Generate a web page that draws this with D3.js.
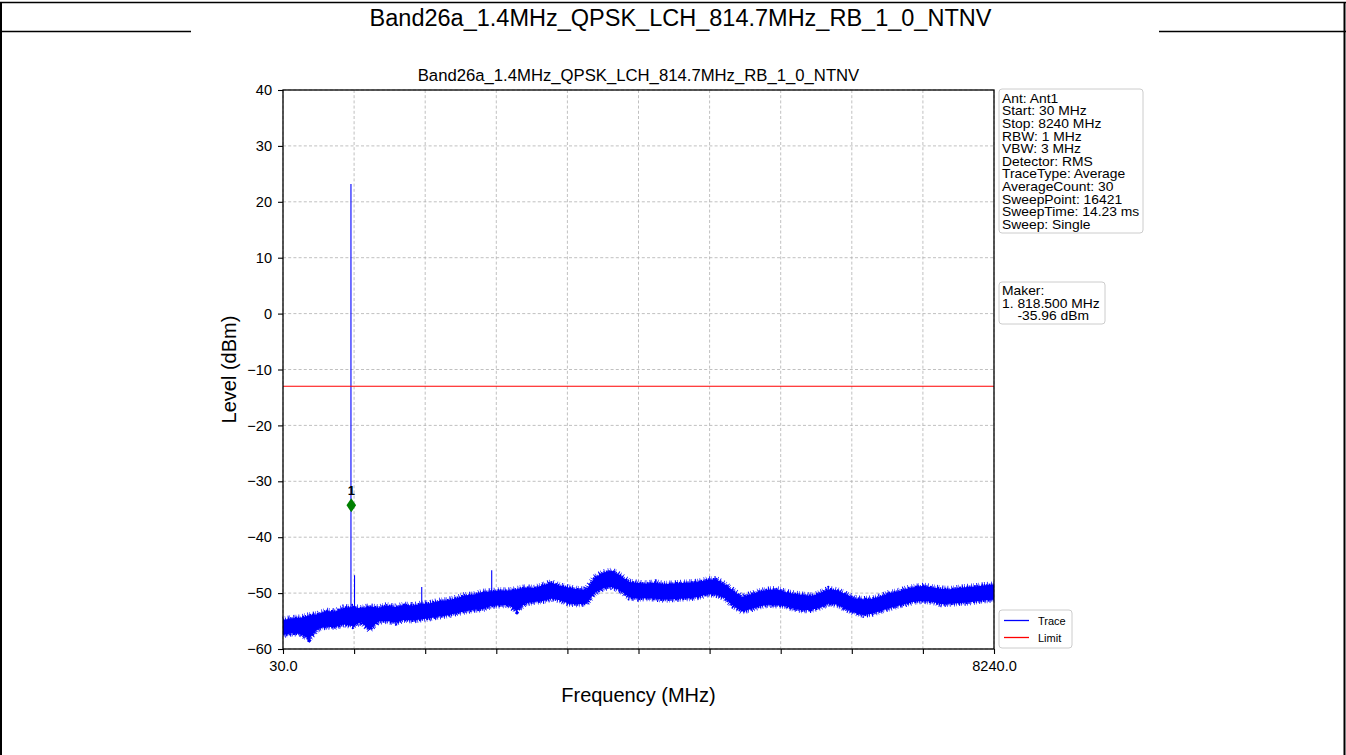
<!DOCTYPE html>
<html><head><meta charset="utf-8">
<script src="https://cdn.jsdelivr.net/npm/d3@7"></script>
<style>
body{margin:0;background:#fff}
svg{display:block}
text{font-family:"Liberation Sans",Arial,Helvetica,sans-serif}
</style>
</head><body>
<svg id="c" width="1346" height="755"></svg>
<script>
// ---------------- data ----------------
const pageTitle = "Band26a_1.4MHz_QPSK_LCH_814.7MHz_RB_1_0_NTNV";
const chartTitle = "Band26a_1.4MHz_QPSK_LCH_814.7MHz_RB_1_0_NTNV";
const xLabel = "Frequency (MHz)";
const yLabel = "Level (dBm)";
const yTicks = [-60, -50, -40, -30, -20, -10, 0, 10, 20, 30, 40];
const xTickValues = [30, 851, 1672, 2493, 3314, 4135, 4956, 5777, 6598, 7419, 8240];
const xTickLabels = ["30.0", "", "", "", "", "", "", "", "", "", "8240.0"];

const traceFreq = [30,130,230,330,430,530,630,730,830,930,
  1030,1130,1230,1330,1430,1530,1630,1730,1830,1930,
  2030,2130,2230,2330,2430,2530,2630,2730,2830,2930,
  3030,3130,3230,3330,3430,3530,3630,3730,3830,3930,
  4030,4130,4230,4330,4430,4530,4630,4730,4830,4930,
  5030,5130,5230,5330,5430,5530,5630,5730,5830,5930,
  6030,6130,6230,6330,6430,6530,6630,6730,6830,6930,
  7030,7130,7230,7330,7430,7530,7630,7730,7830,7930,
  8030,8130,8240];
const traceHigh = [-54.8,-54.5,-54.4,-54.0,-53.8,-53.2,-53.3,-52.6,-52.5,-52.7,
  -52.4,-52.6,-52.2,-52.5,-52.1,-52.2,-51.9,-51.8,-51.4,-51.3,
  -50.9,-50.4,-50.3,-49.8,-49.7,-49.5,-49.6,-49.3,-49.0,-49.1,
  -48.6,-48.1,-48.7,-49.0,-49.3,-49.4,-47.2,-46.3,-46.0,-46.9,
  -48.0,-48.2,-48.3,-48.1,-48.4,-48.3,-48.2,-48.1,-48.0,-47.6,
  -47.5,-48.4,-49.6,-50.7,-50.2,-49.7,-49.4,-49.3,-49.8,-50.1,
  -50.3,-50.5,-50.0,-49.3,-49.5,-50.2,-50.9,-51.1,-51.0,-50.6,
  -50.0,-49.7,-49.2,-48.9,-48.7,-49.0,-49.2,-49.3,-49.1,-48.9,
  -48.8,-48.6,-48.5];
const traceLow = [-57.5,-57.2,-57.3,-58.2,-56.4,-56.0,-56.1,-55.6,-55.9,-55.2,
  -56.6,-55.1,-55.0,-55.3,-54.8,-54.9,-54.7,-54.5,-54.2,-54.0,
  -53.6,-53.3,-53.0,-52.9,-52.3,-52.2,-52.1,-53.2,-51.8,-51.6,
  -51.4,-51.0,-51.3,-51.9,-52.0,-51.9,-50.0,-49.1,-48.9,-49.6,
  -50.8,-51.0,-50.9,-51.0,-51.2,-51.1,-51.0,-50.9,-50.7,-50.2,
  -50.3,-50.9,-52.3,-53.3,-52.9,-52.4,-52.1,-52.2,-52.3,-52.8,
  -53.1,-53.0,-52.6,-51.9,-52.1,-52.9,-53.5,-53.9,-53.7,-53.2,
  -52.7,-52.3,-51.9,-51.5,-51.4,-51.6,-52.0,-51.9,-51.8,-51.7,
  -51.5,-51.3,-51.2];

const spurFreq = [814.7, 856, 1632, 2440];
const spurLevel = [23.2, -46.8, -48.9, -45.9];

const limitLevel = -13;

const markerFreq = [818.5];
const markerLevel = [-34.3];
const markerIds = ["1"];

const infoLines = ["Ant: Ant1", "Start: 30 MHz", "Stop: 8240 MHz", "RBW: 1 MHz", "VBW: 3 MHz",
  "Detector: RMS", "TraceType: Average", "AverageCount: 30", "SweepPoint: 16421",
  "SweepTime: 14.23 ms", "Sweep: Single"];
const makerLines = ["Maker:", "1. 818.500 MHz", "    -35.96 dBm"];

const legendNames = ["Trace", "Limit"];
const legendColors = ["#0000ff", "#ff0000"];

// ---------------- drawing ----------------
const svg = d3.select("#c");

// outer frame (table look)
const frame = svg.append("g");
frame.append("line").attr("x1", 1).attr("x2", 1).attr("y1", 2).attr("y2", 755).attr("stroke", "#000").attr("stroke-width", 2);
frame.append("line").attr("x1", 1344.5).attr("x2", 1344.5).attr("y1", 2).attr("y2", 755).attr("stroke", "#000").attr("stroke-width", 2);
frame.append("line").attr("x1", 0).attr("x2", 1346).attr("y1", 2.5).attr("y2", 2.5).attr("stroke", "#000").attr("stroke-width", 1.5);
frame.append("line").attr("x1", 0).attr("x2", 191).attr("y1", 31.5).attr("y2", 31.5).attr("stroke", "#000").attr("stroke-width", 1.3);
frame.append("line").attr("x1", 1159).attr("x2", 1346).attr("y1", 31.5).attr("y2", 31.5).attr("stroke", "#000").attr("stroke-width", 1.3);
frame.append("text").attr("x", 680.5).attr("y", 26).attr("text-anchor", "middle")
  .attr("font-size", "23.5px").attr("fill", "#000").text(pageTitle);

const L = 283, R = 994, T = 90, B = 649;
const x = d3.scaleLinear().domain([30, 8240]).range([L, R]);
const y = d3.scaleLinear().domain([-60, 40]).range([B, T]);

// grid
const grid = svg.append("g");
grid.selectAll(".gy").data(yTicks).enter().append("line")
  .attr("x1", L).attr("x2", R).attr("y1", d => y(d)).attr("y2", d => y(d))
  .attr("stroke", "#b0b0b0").attr("stroke-width", 0.8).attr("stroke-dasharray", "3,2.2");
grid.selectAll(".gx").data(xTickValues).enter().append("line")
  .attr("x1", d => x(d)).attr("x2", d => x(d)).attr("y1", T).attr("y2", B)
  .attr("stroke", "#b0b0b0").attr("stroke-width", 0.8).attr("stroke-dasharray", "3,2.2");

// trace band
const trace = traceFreq.map((f, i) => ({f, hi: traceHigh[i], lo: traceLow[i]}));
svg.append("path").datum(trace)
  .attr("d", d3.area().x(d => x(d.f)).y0(d => y(d.lo)).y1(d => y(d.hi)))
  .attr("fill", "#0000ff").attr("stroke", "none");
// fuzzy noise edges (style only)
const edgeDash = "0.7,1.6,0.5,2.4,0.9,0.9,0.5,3.1,1.1,1.3,0.6,2.2,0.8,3.4";
[["hi", 0], ["lo", 1]].forEach(([k, j]) => {
  svg.append("path").datum(trace)
    .attr("d", d3.line().x(d => x(d.f)).y(d => y(d[k])))
    .attr("fill", "none").attr("stroke", "#0000ff").attr("stroke-width", j ? 6 : 6.5)
    .attr("stroke-dasharray", edgeDash).attr("stroke-dashoffset", j * 3.7);
  svg.append("path").datum(trace)
    .attr("d", d3.line().x(d => x(d.f)).y(d => y(d[k])))
    .attr("fill", "none").attr("stroke", "#0000ff").attr("stroke-width", j ? 3 : 2.6)
    .attr("stroke-dasharray", "1.4,0.9,0.8,1.6,2,0.7").attr("stroke-dashoffset", j * 1.9);
});

// spurs
const nearestIdx = f => d3.minIndex(traceFreq, v => Math.abs(v - f));
svg.selectAll(".spur").data(spurFreq).enter().append("line")
  .attr("x1", d => x(d)).attr("x2", d => x(d))
  .attr("y1", d => y(traceLow[nearestIdx(d)]))
  .attr("y2", (d, i) => y(spurLevel[i]))
  .attr("stroke", "#0000ff").attr("stroke-width", 1.1);

// limit
svg.append("line").attr("x1", L).attr("x2", R).attr("y1", y(limitLevel)).attr("y2", y(limitLevel))
  .attr("stroke", "#ff0000").attr("stroke-width", 1.2);

// marker
markerFreq.forEach((f, i) => {
  const mx = x(f), my = y(markerLevel[i]);
  svg.append("path").attr("d", `M${mx},${my - 7}L${mx + 4.8},${my}L${mx},${my + 7}L${mx - 4.8},${my}Z`)
    .attr("fill", "#008000");
  svg.append("text").attr("x", mx).attr("y", my - 10).attr("text-anchor", "middle")
    .attr("font-size", "13px").attr("font-weight", "bold").attr("fill", "#000").text(markerIds[i]);
});

// axes
const minusFmt = d => (d < 0 ? "\u2212" : "") + Math.abs(d);
const yAxis = d3.axisLeft(y).tickValues(yTicks).tickSize(5).tickPadding(6).tickFormat(minusFmt);
const xAxis = d3.axisBottom(x).tickValues(xTickValues).tickSize(5).tickPadding(7).tickFormat((d, i) => xTickLabels[i]);
const gy = svg.append("g").attr("transform", `translate(${L},0)`).call(yAxis);
const gx = svg.append("g").attr("transform", `translate(0,${B})`).call(xAxis);
[gy, gx].forEach(g => {
  g.select(".domain").remove();
  g.selectAll(".tick line").attr("stroke", "#000").attr("stroke-width", 1.1);
  g.selectAll(".tick text").attr("font-size", "14.6px").attr("fill", "#000")
    .style("font-family", '"Liberation Sans",Arial,sans-serif');
});
// spines
svg.append("rect").attr("x", L).attr("y", T).attr("width", R - L).attr("height", B - T)
  .attr("fill", "none").attr("stroke", "#000").attr("stroke-width", 1.3);

// titles / labels
svg.append("text").attr("x", (L + R) / 2).attr("y", 81).attr("text-anchor", "middle")
  .attr("font-size", "16.7px").attr("fill", "#000").text(chartTitle);
svg.append("text").attr("x", (L + R) / 2).attr("y", 702).attr("text-anchor", "middle")
  .attr("font-size", "20px").attr("fill", "#000").text(xLabel);
svg.append("text").attr("transform", `translate(236,${(T + B) / 2}) rotate(-90)`).attr("text-anchor", "middle")
  .attr("font-size", "20px").attr("fill", "#000").text(yLabel);

// info boxes
function textBox(lines, bx, by, bw, bh, base0, step) {
  svg.append("rect").attr("x", bx).attr("y", by).attr("width", bw).attr("height", bh)
    .attr("rx", 3).attr("fill", "#fff").attr("fill-opacity", 0.85).attr("stroke", "#cccccc").attr("stroke-width", 1);
  const g = svg.append("g").attr("transform", `translate(${bx + 3},0) scale(1.1,1)`);
  const t = g.append("text").attr("font-size", "12.6px").attr("fill", "#000").attr("xml:space", "preserve");
  lines.forEach((s, i) => {
    t.append("tspan").attr("x", 0).attr("y", base0 + i * step).text(s);
  });
}
textBox(infoLines, 999, 89, 144, 144, 102.7, 12.63);
textBox(makerLines, 999, 282, 106, 42, 295, 12.6);

// legend
const lg = svg.append("g");
lg.append("rect").attr("x", 999).attr("y", 610).attr("width", 73).attr("height", 38)
  .attr("rx", 3).attr("fill", "#fff").attr("stroke", "#cccccc").attr("stroke-width", 1);
legendNames.forEach((n, i) => {
  const ly = 620.5 + i * 17;
  lg.append("line").attr("x1", 1004).attr("x2", 1029).attr("y1", ly).attr("y2", ly)
    .attr("stroke", legendColors[i]).attr("stroke-width", 1.3);
  lg.append("text").attr("x", 1038).attr("y", ly + 4).attr("font-size", "11px").attr("fill", "#000").text(n);
});
</script>
</body></html>
